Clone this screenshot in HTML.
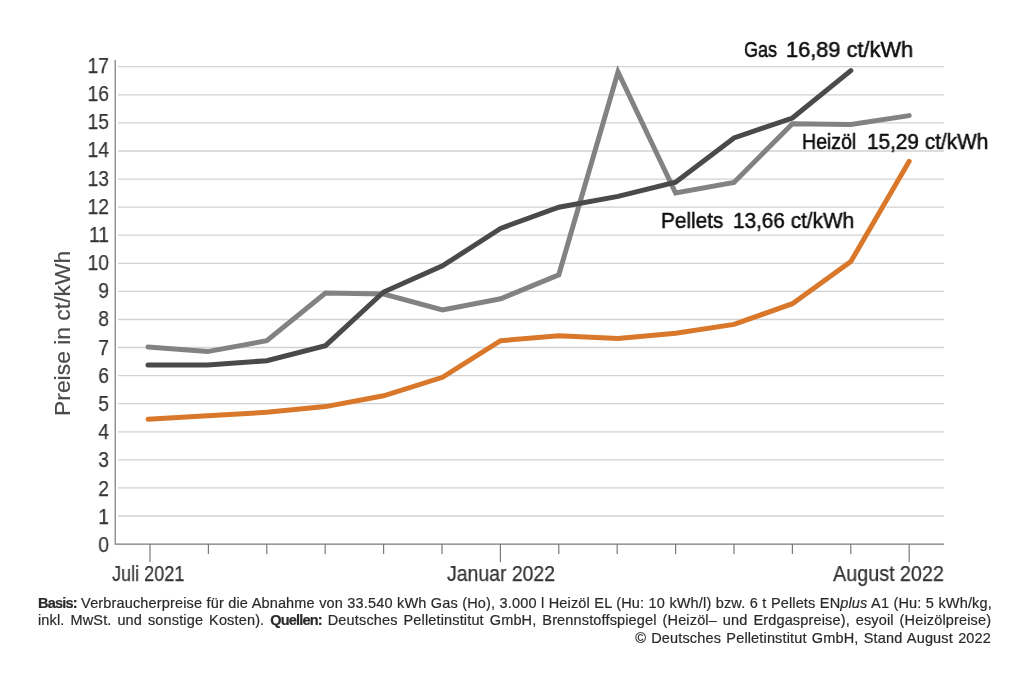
<!DOCTYPE html>
<html><head><meta charset="utf-8"><style>
html,body{margin:0;padding:0;background:#fff;}
body{width:1024px;height:683px;position:relative;overflow:hidden;font-family:"Liberation Sans",sans-serif;}
svg{position:absolute;left:0;top:0;}
.t{position:absolute;white-space:pre;transform-origin:0 0;will-change:transform;}
.yl{width:200px;text-align:right;transform-origin:100% 0;color:#333;-webkit-text-stroke:0.25px #333;}
.fl{position:absolute;will-change:transform;left:38px;width:953px;font-size:14.5px;line-height:14.5px;color:#2a2a2a;letter-spacing:0.15px;-webkit-text-stroke:0.2px #2a2a2a;white-space:nowrap;}
.j{text-align:justify;text-align-last:justify;white-space:normal;}
.r{text-align:right;}
b{font-weight:bold;letter-spacing:-0.8px;}
</style></head><body>
<svg width="1024" height="683" viewBox="0 0 1024 683">
<g stroke="#d2d2d2" stroke-width="1.3"><line x1="118" y1="516.0" x2="944" y2="516.0"/><line x1="118" y1="487.9" x2="944" y2="487.9"/><line x1="118" y1="459.9" x2="944" y2="459.9"/><line x1="118" y1="431.8" x2="944" y2="431.8"/><line x1="118" y1="403.7" x2="944" y2="403.7"/><line x1="118" y1="375.6" x2="944" y2="375.6"/><line x1="118" y1="347.5" x2="944" y2="347.5"/><line x1="118" y1="319.5" x2="944" y2="319.5"/><line x1="118" y1="291.4" x2="944" y2="291.4"/><line x1="118" y1="263.3" x2="944" y2="263.3"/><line x1="118" y1="235.2" x2="944" y2="235.2"/><line x1="118" y1="207.1" x2="944" y2="207.1"/><line x1="118" y1="179.1" x2="944" y2="179.1"/><line x1="118" y1="151.0" x2="944" y2="151.0"/><line x1="118" y1="122.9" x2="944" y2="122.9"/><line x1="118" y1="94.8" x2="944" y2="94.8"/><line x1="118" y1="66.7" x2="944" y2="66.7"/></g>
<g stroke="#7a7a7a" stroke-width="1.2" fill="none"><polyline points="115.2,60 115.2,544.1 944,544.1"/><line x1="150.0" y1="544" x2="150.0" y2="562"/><line x1="208.4" y1="544" x2="208.4" y2="554"/><line x1="266.8" y1="544" x2="266.8" y2="554"/><line x1="325.2" y1="544" x2="325.2" y2="554"/><line x1="383.6" y1="544" x2="383.6" y2="554"/><line x1="442.0" y1="544" x2="442.0" y2="554"/><line x1="500.4" y1="544" x2="500.4" y2="562"/><line x1="558.8" y1="544" x2="558.8" y2="554"/><line x1="617.2" y1="544" x2="617.2" y2="554"/><line x1="675.6" y1="544" x2="675.6" y2="554"/><line x1="734.0" y1="544" x2="734.0" y2="554"/><line x1="792.4" y1="544" x2="792.4" y2="554"/><line x1="850.8" y1="544" x2="850.8" y2="554"/><line x1="909.2" y1="544" x2="909.2" y2="562"/></g>
<g fill="none" stroke-width="5.0" stroke-linecap="round" stroke-linejoin="miter" stroke-miterlimit="10">
<polyline stroke="#828282" points="148.0,346.9 207.5,351.6 266.8,340.7 325.5,293.0 383.6,294.1 442.5,309.9 500.6,298.8 558.8,274.8 618.0,72.0 675.6,193.0 734.0,182.4 792.4,123.8 850.8,124.5 909.2,115.6"/>
<polyline stroke="#4a4a4a" points="148.0,365.0 207.5,365.0 266.8,360.7 325.5,345.7 383.6,292.0 442.5,265.9 500.6,228.4 558.8,207.2 618.0,196.4 675.6,182.3 734.0,137.9 792.4,118.0 850.8,70.6"/>
<polyline stroke="#d9782a" points="148.0,419.2 207.5,415.7 266.8,412.3 325.5,406.6 383.6,395.8 442.5,377.3 500.6,340.7 558.8,335.7 618.0,338.4 675.6,333.3 734.0,324.4 792.4,303.7 850.8,261.6 909.2,161.3"/>
</g>
</svg>
<div class="t yl" style="left:-90.7px;top:534.01px;font-size:22.5px;line-height:22.5px;transform:scaleX(0.86);">0</div><div class="t yl" style="left:-90.7px;top:505.82px;font-size:22.5px;line-height:22.5px;transform:scaleX(0.86);">1</div><div class="t yl" style="left:-90.7px;top:477.63px;font-size:22.5px;line-height:22.5px;transform:scaleX(0.86);">2</div><div class="t yl" style="left:-90.7px;top:449.44px;font-size:22.5px;line-height:22.5px;transform:scaleX(0.86);">3</div><div class="t yl" style="left:-90.7px;top:421.25px;font-size:22.5px;line-height:22.5px;transform:scaleX(0.86);">4</div><div class="t yl" style="left:-90.7px;top:393.06px;font-size:22.5px;line-height:22.5px;transform:scaleX(0.86);">5</div><div class="t yl" style="left:-90.7px;top:364.87px;font-size:22.5px;line-height:22.5px;transform:scaleX(0.86);">6</div><div class="t yl" style="left:-90.7px;top:336.68px;font-size:22.5px;line-height:22.5px;transform:scaleX(0.86);">7</div><div class="t yl" style="left:-90.7px;top:308.49px;font-size:22.5px;line-height:22.5px;transform:scaleX(0.86);">8</div><div class="t yl" style="left:-90.7px;top:280.30px;font-size:22.5px;line-height:22.5px;transform:scaleX(0.86);">9</div><div class="t yl" style="left:-90.7px;top:252.11px;font-size:22.5px;line-height:22.5px;transform:scaleX(0.86);">10</div><div class="t yl" style="left:-90.7px;top:223.92px;font-size:22.5px;line-height:22.5px;transform:scaleX(0.86);">11</div><div class="t yl" style="left:-90.7px;top:195.73px;font-size:22.5px;line-height:22.5px;transform:scaleX(0.86);">12</div><div class="t yl" style="left:-90.7px;top:167.54px;font-size:22.5px;line-height:22.5px;transform:scaleX(0.86);">13</div><div class="t yl" style="left:-90.7px;top:139.35px;font-size:22.5px;line-height:22.5px;transform:scaleX(0.86);">14</div><div class="t yl" style="left:-90.7px;top:111.16px;font-size:22.5px;line-height:22.5px;transform:scaleX(0.86);">15</div><div class="t yl" style="left:-90.7px;top:82.97px;font-size:22.5px;line-height:22.5px;transform:scaleX(0.86);">16</div><div class="t yl" style="left:-90.7px;top:54.78px;font-size:22.5px;line-height:22.5px;transform:scaleX(0.86);">17</div>
<div class="t" style="left:51.78px;top:415.50px;font-size:22px;line-height:22px;color:#4a4a4a;-webkit-text-stroke:0.2px #4a4a4a;transform:rotate(-90deg) scaleX(1.0400);">Preise in ct/kWh</div>
<div class="t" style="left:744.16px;top:38.70px;font-size:22px;line-height:22px;color:#0d0d0d;-webkit-text-stroke:0.5px #0d0d0d;transform:scaleX(0.8211);">Gas</div><div class="t" style="left:785.94px;top:38.70px;font-size:22px;line-height:22px;color:#0d0d0d;-webkit-text-stroke:0.5px #0d0d0d;transform:scaleX(0.9896);">16,89 ct/kWh</div>
<div class="t" style="left:802.19px;top:130.90px;font-size:22px;line-height:22px;color:#0d0d0d;-webkit-text-stroke:0.5px #0d0d0d;transform:scaleX(0.8871);">Heizöl</div><div class="t" style="left:867.30px;top:130.90px;font-size:22px;line-height:22px;color:#0d0d0d;-webkit-text-stroke:0.5px #0d0d0d;transform:scaleX(0.9439);">15,29 ct/kWh</div>
<div class="t" style="left:661.12px;top:210.45px;font-size:22px;line-height:22px;color:#0d0d0d;-webkit-text-stroke:0.5px #0d0d0d;transform:scaleX(0.9435);">Pellets</div><div class="t" style="left:733.14px;top:210.45px;font-size:22px;line-height:22px;color:#0d0d0d;-webkit-text-stroke:0.5px #0d0d0d;transform:scaleX(0.9427);">13,66 ct/kWh</div>
<div class="t" style="left:112.23px;top:562.90px;font-size:22px;line-height:22px;color:#333;-webkit-text-stroke:0.25px #333;transform:scaleX(0.8231);">Juli 2021</div>
<div class="t" style="left:446.79px;top:563.10px;font-size:22px;line-height:22px;color:#333;-webkit-text-stroke:0.25px #333;transform:scaleX(0.8835);">Januar 2022</div>
<div class="t" style="left:833.39px;top:563.10px;font-size:22px;line-height:22px;color:#333;-webkit-text-stroke:0.25px #333;transform:scaleX(0.8979);">August 2022</div>
<div class="fl" style="top:595.5px;word-spacing:0.2px;"><b>Basis:</b> Verbraucherpreise für die Abnahme von 33.540 kWh Gas (Ho), 3.000 l Heizöl EL (Hu: 10 kWh/l) bzw. 6 t Pellets EN<i>plus</i> A1 (Hu: 5 kWh/kg,</div>
<div class="fl" style="top:612.9px;word-spacing:1.74px;">inkl. MwSt. und sonstige Kosten). <b>Quellen:</b> Deutsches Pelletinstitut GmbH, Brennstoffspiegel (Heizöl– und Erdgaspreise), esyoil (Heizölpreise)</div>
<div class="fl r" style="top:630.8px;word-spacing:1.06px;">© Deutsches Pelletinstitut GmbH, Stand August 2022</div>
</body></html>
